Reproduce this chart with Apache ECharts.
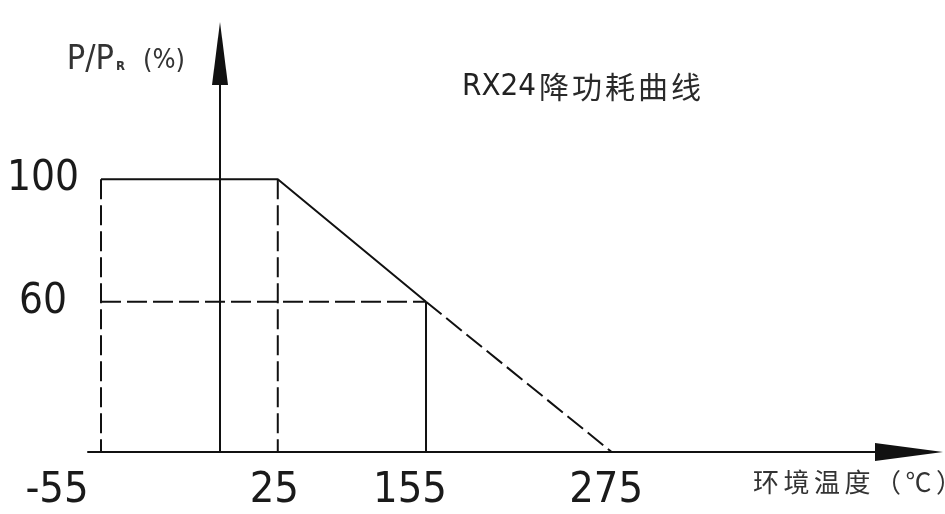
<!DOCTYPE html>
<html>
<head>
<meta charset="utf-8">
<script src="https://cdn.jsdelivr.net/npm/echarts@6/dist/echarts.min.js"></script>
<style>html,body{margin:0;padding:0;background:#fff}#chart{width:945px;height:514px}</style>
</head>
<body>
<div id="chart"></div>
<script>
// ---- data ----
const xTickTemps = [-55, 25, 155, 275];
const xTickLabels = ['-55', '25', '155', '275'];
const yTickValues = [60, 100];
const yTickLabels = ['60', '100'];
const curveTemps = [-55, 25, 155, 275];
const curvePowers = [100, 100, 60, 0];
const titleCode = 'RX24';
const titleText = '降功耗曲线';
const xName = '环境温度（℃）';

// ---- schematic (non-linear) scale used by the original drawing ----
const xScale = { from: [-55, 0, 25, 155, 275], to: [-55, 0, 26.7, 95.2, 181.0] };
const yScale = { from: [0, 60, 100], to: [0, 60, 108.9] };
function piecewise(v, s) {
  const f = s.from, t = s.to;
  let i = 0;
  while (i < f.length - 2 && v > f[i + 1]) i++;
  return t[i] + (v - f[i]) * (t[i + 1] - t[i]) / (f[i + 1] - f[i]);
}
const mapX = v => piecewise(v, xScale);
const mapY = v => piecewise(v, yScale);

const INK = '#111';
const NARROW = "'DejaVu Sans Condensed','Liberation Sans Narrow',sans-serif";
const CJK = "'Noto Sans CJK SC',sans-serif";
const DASH = [20, 6];

// wrap every character in its own rich token so it can be letter-spaced
function spaced(text, token) {
  return Array.from(text).map(ch => '{' + token + '|' + ch + '}').join('');
}

function seg(points, dashed) {
  return {
    type: 'line', silent: true, symbol: 'none', animation: false,
    data: points.map(p => [mapX(p[0]), mapY(p[1])]),
    lineStyle: { color: INK, width: 2, type: dashed ? DASH : 'solid' }
  };
}

const P = curveTemps.map((t, i) => [t, curvePowers[i]]);
const series = [
  seg([P[0], P[1], P[2]], false),               // rated plateau and derating
  seg([P[2], P[3]], true),                      // extension to zero power
  seg([P[0], [P[0][0], 0]], true),              // -55 guide
  seg([P[1], [P[1][0], 0]], true),              // 25 guide
  seg([[P[0][0], P[2][1]], P[2]], true),        // 60 % guide
  seg([P[2], [P[2][0], 0]], false)              // 155 drop
];

const xShift = [88, 7, 32, 11];
const xRich = {};
xShift.forEach((s, i) => {
  xRich['s' + i] = { fontFamily: NARROW, fontSize: 43, color: '#1a1a1a', padding: [0, s, 0, 0] };
});

function nearestIndex(list, v) {
  let i = 0, best = Infinity;
  list.forEach((x, k) => { if (Math.abs(x - v) < best) { best = Math.abs(x - v); i = k; } });
  return i;
}

const option = {
  animation: false,
  backgroundColor: '#fff',
  title: {
    text: '{a|' + titleCode + '}' + spaced(titleText, 'b'),
    left: 457, top: 66,
    textStyle: {
      fontWeight: 'normal',
      rich: {
        a: { fontFamily: NARROW, fontSize: 31, fontWeight: 'normal', color: '#222', padding: [0, 3, 0, 0] },
        b: { fontFamily: CJK, fontSize: 30, fontWeight: 'normal', color: '#2a2a2a', padding: [0, 3, 0, 0] }
      }
    }
  },
  grid: { left: 88, right: 36, top: 53.5, bottom: 62, containLabel: false, outerBoundsMode: 'none' },
  xAxis: {
    type: 'value', min: -61, max: 318.4,
    axisLine: { onZero: true, symbol: ['none', 'triangle'], symbolSize: [18, 68], lineStyle: { color: INK, width: 2 } },
    axisTick: { show: false }, splitLine: { show: false },
    axisLabel: {
      customValues: xTickTemps.map(mapX),
      margin: 17,
      formatter: v => {
        const i = nearestIndex(xTickTemps.map(mapX), v);
        return '{s' + i + '|' + xTickLabels[i] + '}';
      },
      rich: xRich
    },
    name: spaced(xName, 'c'), nameLocation: 'end', nameGap: -156, nameMoveOverlap: false,
    nameTextStyle: {
      align: 'left', verticalAlign: 'top', padding: [17, 0, 0, 0],
      rich: { c: { fontFamily: CJK, fontSize: 26, color: '#333', padding: [0, 4.5, 0, 0] } }
    }
  },
  yAxis: {
    type: 'value', min: 0, max: 159.1,
    axisLine: { onZero: true, symbol: ['none', 'triangle'], symbolSize: [16, 63], lineStyle: { color: INK, width: 2 } },
    axisTick: { show: false }, splitLine: { show: false },
    axisLabel: {
      customValues: yTickValues.map(mapY),
      margin: 45, align: 'center',
      fontFamily: NARROW, fontSize: 42, color: '#1a1a1a',
      formatter: v => yTickLabels[nearestIndex(yTickValues.map(mapY), v)]
    },
    name: '{p|P/P}{r|R}{u|(%)}', nameLocation: 'end', nameGap: -24, nameMoveOverlap: false,
    nameTextStyle: {
      align: 'right', verticalAlign: 'bottom', padding: [0, 35, 0, 0],
      rich: {
        p: { fontFamily: NARROW, fontSize: 34, color: '#333' },
        r: { fontFamily: NARROW, fontSize: 13, fontWeight: 'bold', color: '#333', verticalAlign: 'bottom', padding: [0, 0, 4, 2] },
        u: { fontFamily: NARROW, fontSize: 27, color: '#333', padding: [0, 0, 0, 18] }
      }
    }
  },
  series: series
};

const chart = echarts.init(document.getElementById('chart'), null, { renderer: 'canvas' });
chart.setOption(option);
</script>
</body>
</html>
